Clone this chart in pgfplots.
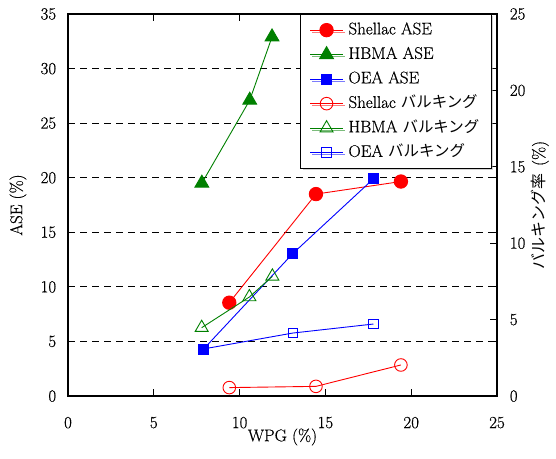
\documentclass[border=0pt]{standalone}
\usepackage{fontspec}
\usepackage{pgfplots}
\pgfplotsset{compat=1.18}
\usetikzlibrary{shadows}
\setmainfont{Latin Modern Roman}[FakeBold=0.5]
\newfontfamily\jp{Noto Sans CJK JP}
\definecolor{dkgreen}{RGB}{0,128,0}
\definecolor{myred}{RGB}{255,0,0}
\definecolor{myblue}{RGB}{0,0,255}

\pgfplotstableread{
x y
9.4 8.55
14.45 18.5
19.4 19.65
}\shellacase
\pgfplotstableread{
x y
7.8 19.5
10.59 27.1
11.89 32.9
}\hbmaase
\pgfplotstableread{
x y
7.9 4.3
13.1 13.05
17.8 19.9
}\oeaase
\pgfplotstableread{
x y
9.4 0.55
14.45 0.63
19.4 2.03
}\shellacbulk
\pgfplotstableread{
x y
7.79 4.47
10.57 6.48
11.91 7.83
}\hbmabulk
\pgfplotstableread{
x y
7.9 3.08
13.1 4.12
17.8 4.71
}\oeabulk

\pgfplotsset{
  shellacA/.style={color=myred, line width=0.9bp, mark=*, mark size=6.7bp, mark options={solid, fill=myred, draw=myred}},
  hbmaA/.style={color=dkgreen, line width=0.9bp, mark=triangle*, mark size=8bp, mark options={solid, fill=dkgreen, draw=dkgreen}},
  oeaA/.style={color=myblue, line width=0.9bp, mark=square*, mark size=5bp, mark options={solid, fill=myblue, draw=myblue}},
  shellacB/.style={color=myred, line width=0.9bp, mark=o, mark size=6.3bp, mark options={solid, fill=white, draw=myred, line width=0.9bp}},
  hbmaB/.style={color=dkgreen, line width=0.9bp, mark=triangle, mark size=7.5bp, mark options={solid, fill=white, draw=dkgreen, line width=0.9bp}},
  oeaB/.style={color=myblue, line width=0.9bp, mark=square, mark size=4.7bp, mark options={solid, fill=white, draw=myblue, line width=0.9bp}},
}

\begin{document}
\fontsize{17}{20}\selectfont
\begin{tikzpicture}[font=\fontsize{17}{20}\selectfont]
\begin{axis}[
  width=429bp, height=382bp, scale only axis,
  xmin=0, xmax=25, ymin=0, ymax=35,
  xtick={0,5,...,25}, ytick={0,5,...,35},
  tick align=inside, major tick length=7bp,
  axis line style={line width=1.5bp},
  major tick style={line width=1bp, black},
  ymajorgrids, grid style={dashed, black, line width=1.1bp, dash pattern=on 7bp off 5bp},
  /pgf/number format/assume math mode=true,
  tick label style={font=\fontsize{17}{20}\selectfont},
  xticklabel style={yshift=-15bp},
  yticklabel style={xshift=-6bp},
  xlabel={WPG (\%)}, ylabel={ASE (\%)},
  xlabel style={at={(axis description cs:0.5,-0.1073)}, anchor=center},
  ylabel style={at={(axis description cs:-0.1166,0.5)}, anchor=center},
]
\addplot[shellacA] table[x=x,y=y] {\shellacase};
\addplot[hbmaA] table[x=x,y=y] {\hbmaase};
\addplot[oeaA] table[x=x,y=y] {\oeaase};
\end{axis}
\begin{axis}[
  width=429bp, height=382bp, scale only axis,
  xmin=0, xmax=25, ymin=0, ymax=25,
  axis x line=none, axis y line*=right,
  ytick={0,5,...,25},
  tick align=inside, major tick length=7bp,
  axis line style={line width=1.5bp},
  major tick style={line width=1bp, black},
  /pgf/number format/assume math mode=true,
  tick label style={font=\fontsize{17}{20}\selectfont},
  yticklabel style={xshift=7bp},
  ylabel={{\jp\fontsize{16}{19}\selectfont バルキング率}\hspace{8bp}(\%)},
  ylabel style={at={(axis description cs:1.1002,0.5)}, anchor=center},
  legend style={at={(axis description cs:0.9877,1)}, anchor=north east,
    draw=black, line width=0.8bp, fill=white,
    drop shadow={shadow xshift=2bp, shadow yshift=-2bp, fill=gray!70},
    inner xsep=9bp, inner ysep=6bp, row sep=5bp,
    nodes={text height=12bp, text depth=3.5bp, inner ysep=2bp, inner xsep=3bp},
    /tikz/every odd column/.append style={column sep=2bp},
    font=\fontsize{17}{20}\selectfont},
  legend cell align=left,
  legend image code/.code={\draw[mark repeat=2,mark phase=2] plot coordinates {(0bp,0bp) (16.5bp,0bp) (33bp,0bp)};},
]
\addlegendimage{shellacA}
\addlegendentry{Shellac ASE}
\addlegendimage{hbmaA}
\addlegendentry{HBMA ASE}
\addlegendimage{oeaA}
\addlegendentry{OEA ASE}
\addplot[shellacB] table[x=x,y=y] {\shellacbulk};
\addlegendentry{Shellac {\jp\fontsize{15.5}{18}\selectfont バルキング}}
\addplot[hbmaB] table[x=x,y=y] {\hbmabulk};
\addlegendentry{HBMA {\jp\fontsize{15.5}{18}\selectfont バルキング}}
\addplot[oeaB] table[x=x,y=y] {\oeabulk};
\addlegendentry{OEA {\jp\fontsize{15.5}{18}\selectfont バルキング}}
\end{axis}
\pgfresetboundingbox
\path (current axis.south west) ++(-68bp,-63bp) rectangle ++(556bp,459bp);
\end{tikzpicture}
\end{document}
